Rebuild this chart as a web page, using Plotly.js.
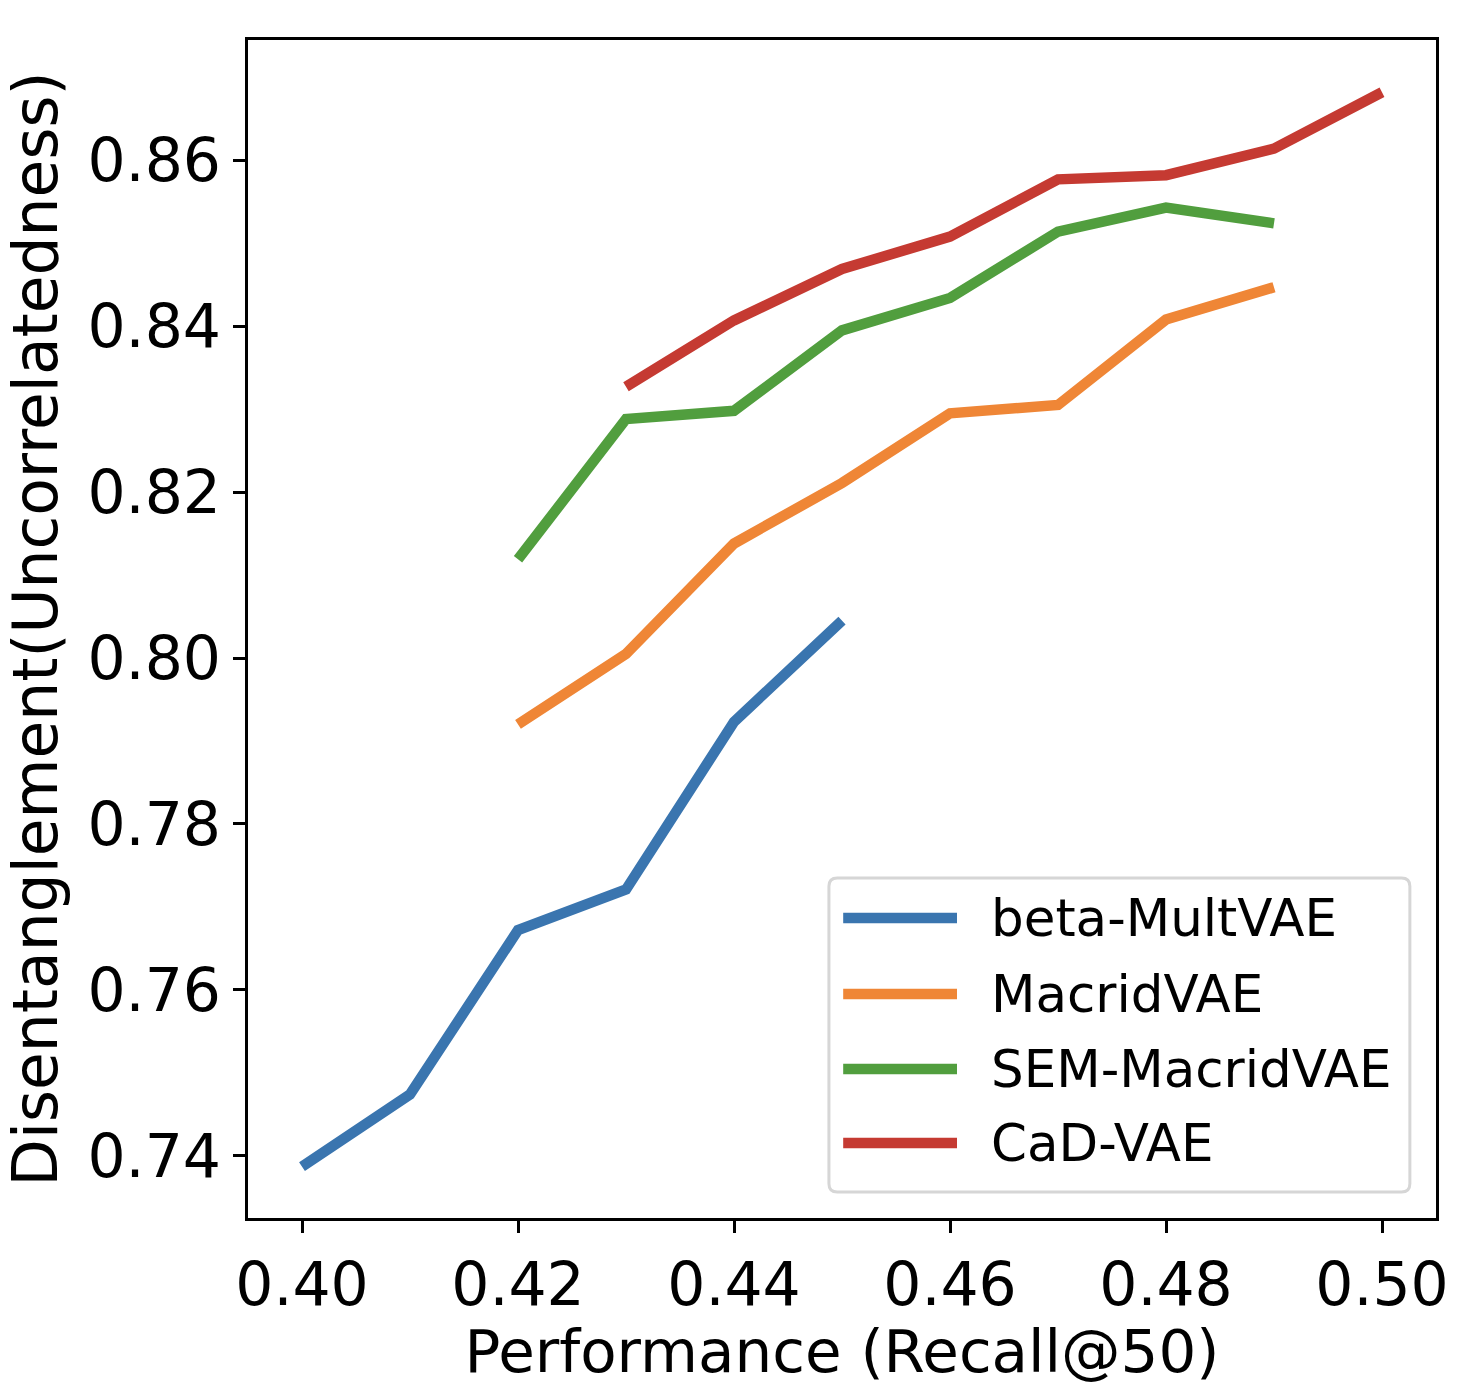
<!DOCTYPE html>
<html>
<head>
<meta charset="utf-8">
<script src="https://cdn.plot.ly/plotly-3.0.1.min.js"></script>
<style>
  html, body { margin: 0; padding: 0; background: #fff; }
  #chart { width: 1474px; height: 1386px; }
</style>
</head>
<body>
<div id="chart"></div>
<script>
// recall@50 on x, uncorrelatedness on y
var names = ['beta-MultVAE', 'MacridVAE', 'SEM-MacridVAE', 'CaD-VAE'];
var colors = ['#3a75af', '#ef8636', '#519e3e', '#c53a32'];

var betaX = [0.40, 0.41, 0.42, 0.43, 0.44, 0.45];
var betaY = [0.7387, 0.7474, 0.7672, 0.7721, 0.7923, 0.8045];

var macridX = [0.42, 0.43, 0.44, 0.45, 0.46, 0.47, 0.48, 0.49];
var macridY = [0.7920, 0.8005, 0.8138, 0.8211, 0.8295, 0.8305, 0.8408, 0.8447];

var semX = [0.42, 0.43, 0.44, 0.45, 0.46, 0.47, 0.48, 0.49];
var semY = [0.8119, 0.8288, 0.8298, 0.8395, 0.8434, 0.8514, 0.8543, 0.8524];

var cadX = [0.43, 0.44, 0.45, 0.46, 0.47, 0.48, 0.49, 0.50];
var cadY = [0.8327, 0.8407, 0.8469, 0.8508, 0.8577, 0.8582, 0.8614, 0.8682];

var xTicks = [0.40, 0.42, 0.44, 0.46, 0.48, 0.50];
var yTicks = [0.74, 0.76, 0.78, 0.80, 0.82, 0.84, 0.86];

var font = 'DejaVu Sans, sans-serif';
var seriesX = [betaX, macridX, semX, cadX];
var seriesY = [betaY, macridY, semY, cadY];

var data = [];
for (var i = 0; i < names.length; i++) {
  data.push({
    x: seriesX[i],
    y: seriesY[i],
    name: names[i],
    mode: 'lines',
    type: 'scatter',
    line: {color: colors[i], width: 10.5}
  });
}

// legend drawn by hand so the sample lines are long like matplotlib's
var shapes = [];
var annotations = [];
var lx0 = 0.489, lx1 = 0.978, ly0 = 0.022, ly1 = 0.2886, rx = 0.007, ry = 0.007;
shapes.push({
  type: 'path', xref: 'paper', yref: 'paper',
  path: 'M ' + (lx0 + rx) + ',' + ly1 +
        ' L ' + (lx1 - rx) + ',' + ly1 +
        ' Q ' + lx1 + ',' + ly1 + ' ' + lx1 + ',' + (ly1 - ry) +
        ' L ' + lx1 + ',' + (ly0 + ry) +
        ' Q ' + lx1 + ',' + ly0 + ' ' + (lx1 - rx) + ',' + ly0 +
        ' L ' + (lx0 + rx) + ',' + ly0 +
        ' Q ' + lx0 + ',' + ly0 + ' ' + lx0 + ',' + (ly0 + ry) +
        ' L ' + lx0 + ',' + (ly1 - ry) +
        ' Q ' + lx0 + ',' + ly1 + ' ' + (lx0 + rx) + ',' + ly1 + ' Z',
  line: {color: '#d6d6d6', width: 3},
  fillcolor: 'rgba(255,255,255,0.8)'
});
var rows = [0.2547, 0.1902, 0.1265, 0.0637];
for (var j = 0; j < names.length; j++) {
  shapes.push({
    type: 'line', xref: 'paper', yref: 'paper',
    x0: 0.5010, x1: 0.5968, y0: rows[j], y1: rows[j],
    line: {color: colors[j], width: 10.5}
  });
  annotations.push({
    xref: 'paper', yref: 'paper', x: 0.6240, y: rows[j],
    xanchor: 'left', yanchor: 'middle', showarrow: false,
    text: names[j],
    font: {family: font, size: 51.5, color: '#000'}
  });
}

var layout = {
  width: 1474,
  height: 1386,
  margin: {l: 248, r: 38, t: 40, b: 168},
  paper_bgcolor: '#fff',
  plot_bgcolor: '#fff',
  showlegend: false,
  font: {family: font, size: 60, color: '#000'},
  xaxis: {
    range: [0.395, 0.505],
    tickvals: xTicks,
    ticktext: xTicks.map(function (v) { return v.toFixed(2); }),
    ticks: 'outside', ticklen: 12, tickwidth: 3, tickcolor: '#000',
    showline: true, linewidth: 3, linecolor: '#000', mirror: true,
    showgrid: false, zeroline: false,
    title: {text: 'Performance (Recall@50)', font: {size: 59.5}, standoff: 14}
  },
  yaxis: {
    range: [0.7325, 0.8745],
    tickvals: yTicks,
    ticktext: yTicks.map(function (v) { return v.toFixed(2); }),
    ticks: 'outside', ticklen: 12, tickwidth: 3, tickcolor: '#000',
    showline: true, linewidth: 3, linecolor: '#000', mirror: true,
    showgrid: false, zeroline: false,
    title: {text: 'Disentanglement(Uncorrelatedness)', font: {size: 61.5}, standoff: 16}
  },
  shapes: shapes,
  annotations: annotations
};

Plotly.newPlot('chart', data, layout, {displayModeBar: false, staticPlot: true});
</script>
</body>
</html>
